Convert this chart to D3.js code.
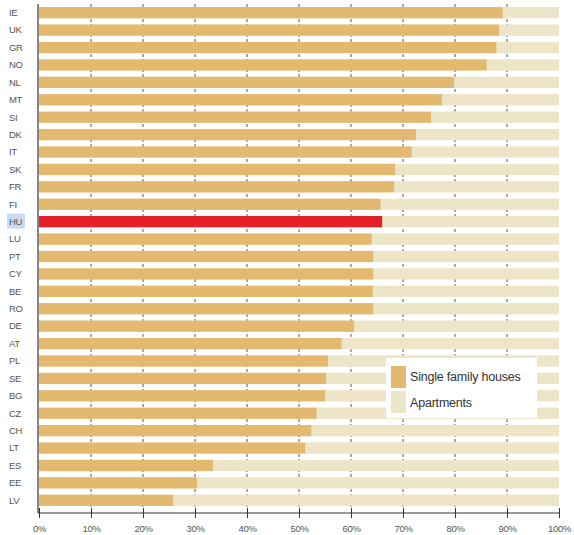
<!DOCTYPE html>
<html>
<head>
<meta charset="utf-8">
<script src="https://cdn.jsdelivr.net/npm/d3@7"></script>
<style>
  html, body { margin: 0; padding: 0; background: #ffffff; }
  svg { display: block; }
  text { font-family: "Liberation Sans", Arial, sans-serif; }
</style>
</head>
<body>
<svg id="chart" width="574" height="535"></svg>
<script>
// Share of dwellings by type, per country (%)
const countries = ["IE","UK","GR","NO","NL","MT","SI","DK","IT","SK","FR","FI","HU","LU","PT","CY","BE","RO","DE","AT","PL","SE","BG","CZ","CH","LT","ES","EE","LV"];
const singleFamily = [89.2,88.5,88.0,86.1,79.8,77.5,75.4,72.5,71.7,68.5,68.3,65.7,66.0,64.0,64.3,64.3,64.2,64.3,60.6,58.2,55.6,55.2,55.0,53.4,52.4,51.2,33.5,30.4,25.8];
const apartments = singleFamily.map(v => +(100 - v).toFixed(1));
const highlight = "HU";
const xTicks = [0,10,20,30,40,50,60,70,80,90,100];
const seriesNames = ["Single family houses", "Apartments"];

const colors = { single: "#e3b96f", apart: "#ede5c7", highlight: "#e41f26", grid: "#555", axis: "#333" };

const svg = d3.select("#chart");

const x = d3.scaleLinear().domain([0, 100]).range([39, 559]);
const y = d3.scaleBand().domain(countries).range([4, 509]).paddingInner(0.35).paddingOuter(0.175);

const rows = countries.map((c, i) => ({ c, s: singleFamily[i], a: apartments[i] }));

// vertical gridlines behind the bars
svg.append("g").selectAll("line").data(xTicks.slice(1, -1)).join("line")
  .attr("x1", d => x(d)).attr("x2", d => x(d))
  .attr("y1", 4).attr("y2", 509)
  .attr("stroke", colors.grid).attr("stroke-width", 1)
  .attr("stroke-dasharray", "3,2");

// apartments (stacked after single family houses)
svg.append("g").selectAll("rect").data(rows).join("rect")
  .attr("x", d => x(d.s)).attr("width", d => x(d.s + d.a) - x(d.s))
  .attr("y", d => y(d.c)).attr("height", y.bandwidth())
  .attr("fill", colors.apart);

// single family houses
svg.append("g").selectAll("rect").data(rows).join("rect")
  .attr("x", x(0)).attr("width", d => x(d.s) - x(0))
  .attr("y", d => y(d.c)).attr("height", y.bandwidth())
  .attr("fill", d => d.c === highlight ? colors.highlight : colors.single);

// country labels
const labels = svg.append("g");
labels.selectAll("rect").data(rows.filter(d => d.c === highlight)).join("rect")
  .attr("x", 7).attr("width", 18)
  .attr("y", d => y(d.c) + y.bandwidth() / 2 - 8).attr("height", 15)
  .attr("fill", "#c9dcef");
labels.selectAll("text").data(rows).join("text")
  .attr("x", 9).attr("y", d => y(d.c) + y.bandwidth() / 2)
  .attr("dy", "0.35em")
  .attr("font-size", 9.5).attr("fill", "#555").attr("letter-spacing", -0.3)
  .text(d => d.c);

// axes
const xAxis = d3.axisBottom(x).tickValues(xTicks).tickFormat(d => d + "%").tickSize(5).tickPadding(7);
const gx = svg.append("g").attr("transform", "translate(0,513)").call(xAxis);
gx.select(".domain").attr("stroke", colors.axis).attr("d", `M${x(0) - 1},0H${x(100) + 1}`);
gx.selectAll(".tick line").attr("stroke", colors.axis).attr("y1", -5).attr("y2", 5);
gx.selectAll(".tick text").attr("font-size", 9.5).attr("fill", "#555").attr("letter-spacing", -0.3)
  .attr("font-family", "'Liberation Sans', Arial, sans-serif");

svg.append("line")
  .attr("x1", 38).attr("x2", 38).attr("y1", 4).attr("y2", 513)
  .attr("stroke", colors.axis).attr("stroke-width", 1.2);

// legend
const lg = svg.append("g").attr("transform", "translate(386,358)");
lg.append("rect").attr("width", 151).attr("height", 60).attr("fill", "#ffffff");
const legendColors = [colors.single, colors.apart];
seriesNames.forEach((name, i) => {
  lg.append("rect").attr("x", 5).attr("y", 8 + i * 25).attr("width", 15).attr("height", 22)
    .attr("fill", legendColors[i]);
  lg.append("text").attr("x", 24).attr("y", 23 + i * 26)
    .attr("font-size", 12.5).attr("fill", "#333").attr("letter-spacing", -0.2)
    .text(name);
});
</script>
</body>
</html>
